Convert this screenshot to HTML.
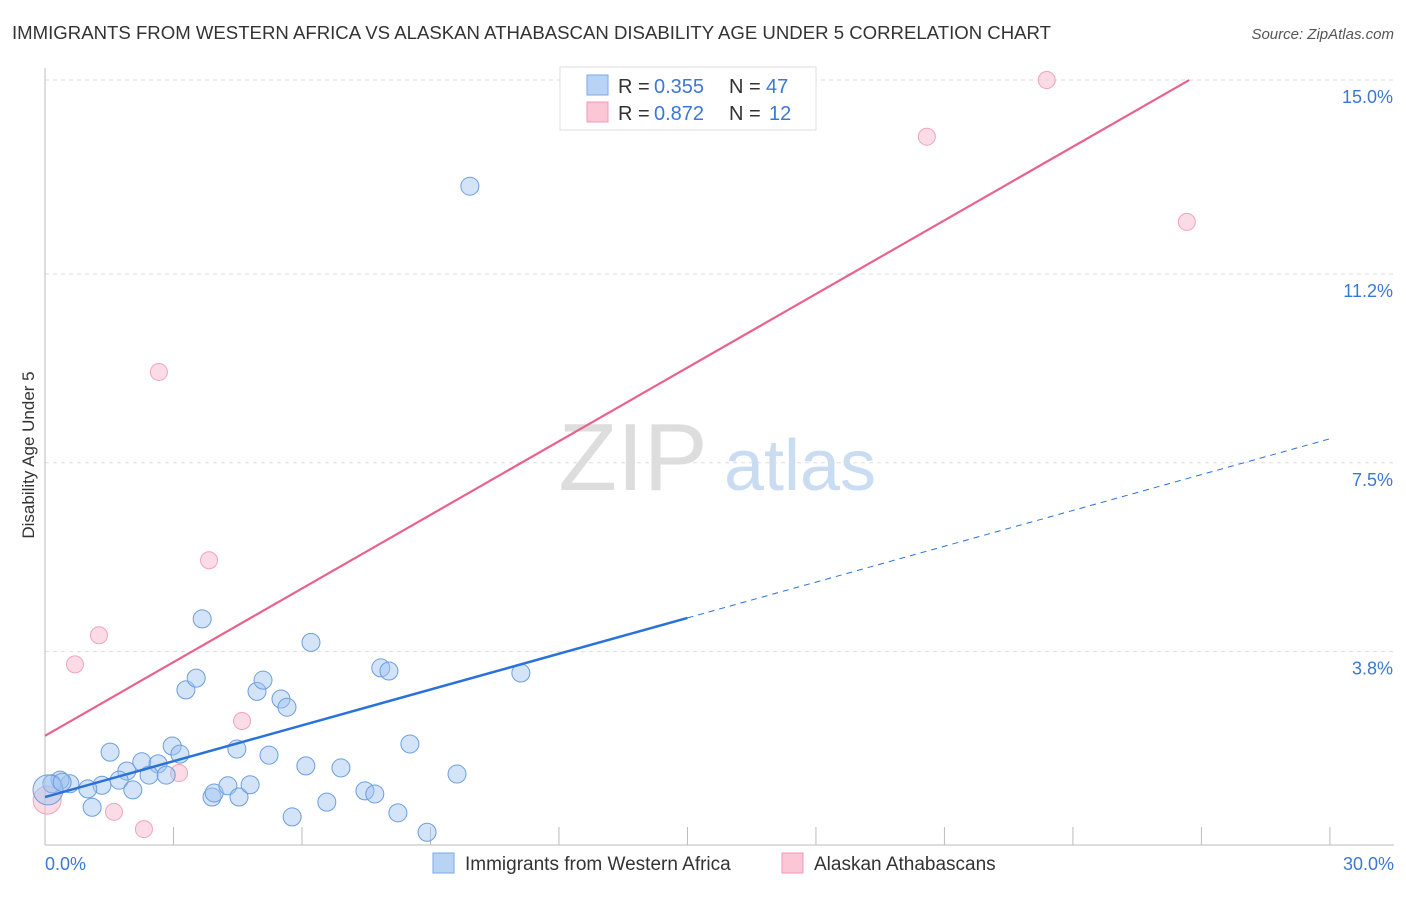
<!DOCTYPE html>
<html><head><meta charset="utf-8"><style>
body{margin:0;background:#fff;font-family:"Liberation Sans",sans-serif;}
svg text{font-family:"Liberation Sans",sans-serif;}
</style></head><body>
<svg id="chart" width="1406" height="892" xmlns="http://www.w3.org/2000/svg">
<text x="12" y="39" font-size="18" fill="#333" textLength="1039" lengthAdjust="spacingAndGlyphs">IMMIGRANTS FROM WESTERN AFRICA VS ALASKAN ATHABASCAN DISABILITY AGE UNDER 5 CORRELATION CHART</text>
<text x="1394" y="39" font-size="15" fill="#555" text-anchor="end" font-style="italic">Source: ZipAtlas.com</text>
<text transform="translate(34,455) rotate(-90)" font-size="17" fill="#333" text-anchor="middle">Disability Age Under 5</text>
<g><text x="633" y="490" font-size="96" fill="#ddd" font-family="Liberation Serif" text-anchor="middle">ZIP</text><text x="800" y="490" font-size="72" fill="#c9dcf2" text-anchor="middle">atlas</text></g>
<g id="grid"></g><g id="axes"></g><g id="marks"></g>
<g>
<rect x="560" y="67" width="256" height="63" fill="#fff" stroke="#ddd"/>
<rect x="587" y="75" width="21" height="20" fill="#b9d3f5" stroke="#7aa8e6"/>
<rect x="587" y="102" width="21" height="20" fill="#fbc7d6" stroke="#f19ab6"/>
<text x="618" y="93" font-size="20" fill="#333">R =</text>
<text x="654" y="93" font-size="20" fill="#3a78d4">0.355</text>
<text x="729" y="93" font-size="20" fill="#333">N =</text>
<text x="766" y="93" font-size="20" fill="#3a78d4">47</text>
<text x="618" y="120" font-size="20" fill="#333">R =</text>
<text x="654" y="120" font-size="20" fill="#3a78d4">0.872</text>
<text x="729" y="120" font-size="20" fill="#333">N =</text>
<text x="769" y="120" font-size="20" fill="#3a78d4">12</text>
</g>
<g>
<rect x="433" y="853" width="21" height="20" fill="#b9d3f5" stroke="#7aa8e6"/>
<text x="465" y="870" font-size="19" fill="#333">Immigrants from Western Africa</text>
<rect x="782" y="853" width="21" height="20" fill="#fbc7d6" stroke="#f19ab6"/>
<text x="814" y="870" font-size="19" fill="#333">Alaskan Athabascans</text>
</g>
</svg>
<script>
const yTicks=[3.8,7.5,11.2,15.0];
const yTickLabels=["3.8%","7.5%","11.2%","15.0%"];
const xTickLabels=["0.0%","30.0%"];
const blueX=[9.92,3.67,6.21,3.29,3.53,4.95,5.09,5.51,5.65,7.84,8.03,11.11,1.52,2.97,4.48,5.23,8.52,2.26,2.64,3.15,1.91,2.43,2.83,1.73,1.33,1.00,0.58,0.35,0.16,2.05,1.10,3.90,3.95,4.27,4.53,4.79,6.09,6.91,7.47,7.70,6.58,5.77,8.24,8.92,9.62,0.07,0.40];
const blueY=[12.92,4.44,3.98,3.05,3.28,3.02,3.24,2.87,2.71,3.48,3.42,3.38,1.83,1.95,1.89,1.77,1.99,1.64,1.60,1.79,1.46,1.38,1.38,1.28,1.18,1.11,1.21,1.28,1.21,1.09,0.75,0.95,1.03,1.17,0.95,1.19,1.56,1.52,1.07,1.01,0.85,0.56,0.64,0.26,1.40,1.09,1.24];
const pinkX=[23.39,20.59,26.66,2.66,3.83,1.26,0.70,4.60,3.13,1.61,2.31,0.05];
const pinkY=[15.0,13.89,12.22,9.28,5.59,4.12,3.55,2.44,1.42,0.66,0.32,0.89];
const blueTrend=[0.95,0.234];
const pinkTrend=[2.15,0.481];
const NS="http://www.w3.org/2000/svg";
const X=v=>45+v*42.83, Y=v=>845.5-v*51.03;
function mk(tag,attrs,parent){const e=document.createElementNS(NS,tag);for(const k in attrs)e.setAttribute(k,attrs[k]);parent.appendChild(e);return e;}
const grid=document.getElementById('grid'),axes=document.getElementById('axes'),marks=document.getElementById('marks');
yTicks.forEach((t,i)=>{
 const l=mk('line',{x1:45,x2:1394,y1:Y(t),y2:Y(t),stroke:'#ddd','stroke-dasharray':'4,4'},grid);
 
 
 const tx=mk('text',{x:1393,y:Y(t)+23,'font-size':18,fill:'#3a78d4','text-anchor':'end'},axes);
 tx.textContent=yTickLabels[i];
 
 
});
const ya=mk('line',{x1:45,x2:45,y1:68,y2:845,stroke:'#bbb'},axes);


const xa=mk('line',{x1:45,x2:1394,y1:845,y2:845,stroke:'#bbb'},axes);


for(let i=1;i<=10;i++){const tk=mk('line',{x1:X(i*3),x2:X(i*3),y1:827,y2:845,stroke:'#bbb'},axes);
 
 }
const xl0=mk('text',{x:45,y:870,'font-size':18,fill:'#3a78d4'},axes);xl0.textContent=xTickLabels[0];


const xl1=mk('text',{x:1394,y:870,'font-size':18,fill:'#3a78d4','text-anchor':'end'},axes);xl1.textContent=xTickLabels[1];


function dot(x,y,r,fill,stroke,name){const c=mk('circle',{cx:X(x),cy:Y(y),r:r,fill:fill,stroke:stroke,'stroke-width':1},marks);
 
 }
pinkX.forEach((x,i)=>dot(x,pinkY[i],i===11?14:8.5,'rgba(248,185,205,0.5)','#f0a3bc','pink-point'));
blueX.forEach((x,i)=>dot(x,blueY[i],i===45?15:9,'rgba(160,196,240,0.45)','#6a9ee0','blue-point'));
const bl=mk('line',{x1:X(0),y1:Y(blueTrend[0]),x2:X(15),y2:Y(blueTrend[0]+blueTrend[1]*15),stroke:'#2a72d9','stroke-width':2.5},marks);


const bd=mk('line',{x1:X(15),y1:Y(blueTrend[0]+blueTrend[1]*15),x2:X(30),y2:Y(blueTrend[0]+blueTrend[1]*30),stroke:'#2a72d9','stroke-width':1,'stroke-dasharray':'6,5'},marks);


const pe=(15-pinkTrend[0])/pinkTrend[1];
const pl=mk('line',{x1:X(0),y1:Y(pinkTrend[0]),x2:X(pe),y2:Y(15),stroke:'#e8628c','stroke-width':2.2},marks);


</script>
</body></html>
